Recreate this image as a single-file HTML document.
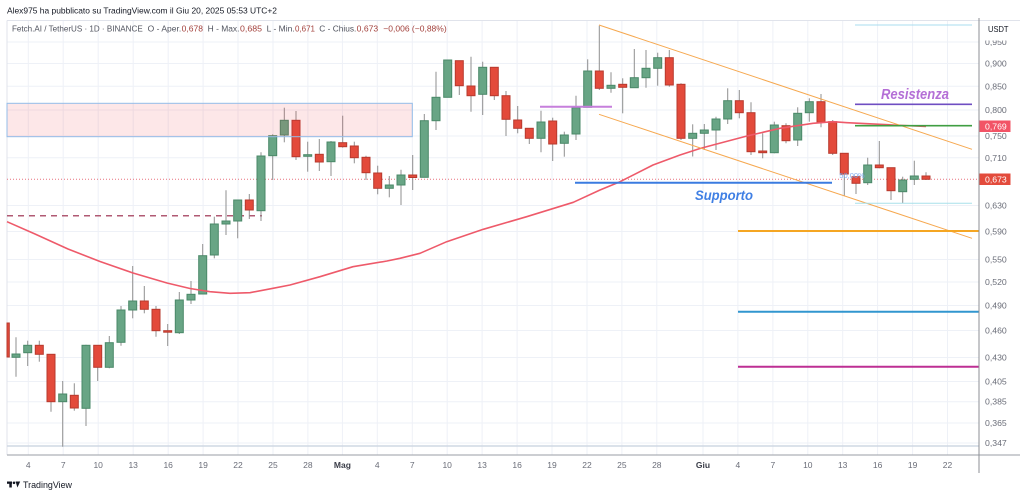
<!DOCTYPE html>
<html><head><meta charset="utf-8"><style>
html,body{margin:0;padding:0;background:#fff;}
svg{display:block;}
text{font-family:"Liberation Sans",sans-serif;}
.w{stroke:#8f8f8f;stroke-width:1;}
.g{fill:#68a585;stroke:#4a8868;stroke-width:1;}
.r{fill:#e34a3b;stroke:#b73a2e;stroke-width:1;}
.gv{stroke:#eef1f7;stroke-width:1;}
.pl{font-size:8.7px;fill:#6a6d78;}
.dl{font-size:8.5px;fill:#6a6d78;text-anchor:middle;}
</style></head><body>
<svg width="1024" height="497" viewBox="0 0 1024 497" xmlns="http://www.w3.org/2000/svg">
<rect width="1024" height="497" fill="#fff"/>
<!-- vertical grid -->
<g class="gv">
<line x1="28.3" y1="21" x2="28.3" y2="455"/><line x1="63.2" y1="21" x2="63.2" y2="455"/><line x1="98.2" y1="21" x2="98.2" y2="455"/><line x1="133.2" y1="21" x2="133.2" y2="455"/><line x1="168.2" y1="21" x2="168.2" y2="455"/><line x1="203.1" y1="21" x2="203.1" y2="455"/><line x1="238" y1="21" x2="238" y2="455"/><line x1="273" y1="21" x2="273" y2="455"/><line x1="307.9" y1="21" x2="307.9" y2="455"/><line x1="342.4" y1="21" x2="342.4" y2="455"/><line x1="377.3" y1="21" x2="377.3" y2="455"/><line x1="412.3" y1="21" x2="412.3" y2="455"/><line x1="447.2" y1="21" x2="447.2" y2="455"/><line x1="482.1" y1="21" x2="482.1" y2="455"/><line x1="517.1" y1="21" x2="517.1" y2="455"/><line x1="552" y1="21" x2="552" y2="455"/><line x1="587" y1="21" x2="587" y2="455"/><line x1="621.9" y1="21" x2="621.9" y2="455"/><line x1="656.8" y1="21" x2="656.8" y2="455"/><line x1="703" y1="21" x2="703" y2="455"/><line x1="737.9" y1="21" x2="737.9" y2="455"/><line x1="772.9" y1="21" x2="772.9" y2="455"/><line x1="807.8" y1="21" x2="807.8" y2="455"/><line x1="842.7" y1="21" x2="842.7" y2="455"/><line x1="877.6" y1="21" x2="877.6" y2="455"/><line x1="912.6" y1="21" x2="912.6" y2="455"/><line x1="947.5" y1="21" x2="947.5" y2="455"/>
</g>
<!-- horizontal grid -->
<g class="gv">
<line x1="7" y1="42" x2="979" y2="42"/><line x1="7" y1="63.5" x2="979" y2="63.5"/><line x1="7" y1="86.3" x2="979" y2="86.3"/><line x1="7" y1="110" x2="979" y2="110"/><line x1="7" y1="136" x2="979" y2="136"/><line x1="7" y1="157.8" x2="979" y2="157.8"/><line x1="7" y1="205.5" x2="979" y2="205.5"/><line x1="7" y1="231.5" x2="979" y2="231.5"/><line x1="7" y1="259.5" x2="979" y2="259.5"/><line x1="7" y1="282" x2="979" y2="282"/><line x1="7" y1="305.5" x2="979" y2="305.5"/><line x1="7" y1="330.5" x2="979" y2="330.5"/><line x1="7" y1="357.5" x2="979" y2="357.5"/><line x1="7" y1="381.5" x2="979" y2="381.5"/><line x1="7" y1="401.7" x2="979" y2="401.7"/><line x1="7" y1="423" x2="979" y2="423"/><line x1="7" y1="443" x2="979" y2="443"/>
</g>
<!-- frame -->
<line x1="7" y1="20.5" x2="1020" y2="20.5" stroke="#e0e3eb" stroke-width="1"/>
<line x1="7" y1="20.5" x2="7" y2="455" stroke="#e0e3eb" stroke-width="1"/>
<line x1="7" y1="446" x2="979" y2="446" stroke="#cfd8e3" stroke-width="1.5"/>

<!-- current price dotted line -->
<line x1="7" y1="179.3" x2="979" y2="179.3" stroke="#e8707e" stroke-width="1" stroke-dasharray="1,2"/>
<!-- red dashed line -->
<line x1="7" y1="215.7" x2="262" y2="215.7" stroke="#b05a73" stroke-width="1.5" stroke-dasharray="6,5"/>

<!-- candles -->
<rect x="7" y="323" width="2.3" height="34" class="r"/>
<line x1="16" y1="337.3" x2="16" y2="376.7" class="w"/><rect x="12" y="354" width="8" height="3.3" class="g"/>
<line x1="27.7" y1="340.7" x2="27.7" y2="366" class="w"/><rect x="23.7" y="345.3" width="8" height="7.4" class="g"/>
<line x1="39.3" y1="340.7" x2="39.3" y2="361.7" class="w"/><rect x="35.3" y="345.3" width="8" height="9" class="r"/>
<line x1="51" y1="354.3" x2="51" y2="411.7" class="w"/><rect x="47" y="354.3" width="8" height="47.4" class="r"/>
<line x1="62.7" y1="381" x2="62.7" y2="446.7" class="w"/><rect x="58.7" y="394" width="8" height="7.7" class="g"/>
<line x1="74.3" y1="383.3" x2="74.3" y2="410.7" class="w"/><rect x="70.3" y="395.3" width="8" height="12.7" class="r"/>
<line x1="86" y1="344.7" x2="86" y2="426" class="w"/><rect x="82" y="345.3" width="8" height="63" class="g"/>
<line x1="97.7" y1="345.3" x2="97.7" y2="381" class="w"/><rect x="93.7" y="345.3" width="8" height="22" class="r"/>
<line x1="109.3" y1="336" x2="109.3" y2="368.3" class="w"/><rect x="105.3" y="342.7" width="8" height="24.6" class="g"/>
<line x1="121" y1="306" x2="121" y2="345.7" class="w"/><rect x="117" y="310" width="8" height="32.3" class="g"/>
<line x1="132.7" y1="266" x2="132.7" y2="318.3" class="w"/><rect x="128.7" y="301" width="8" height="9" class="g"/>
<line x1="144.3" y1="286" x2="144.3" y2="313.3" class="w"/><rect x="140.3" y="301" width="8" height="8.3" class="r"/>
<line x1="156" y1="306" x2="156" y2="336.7" class="w"/><rect x="152" y="309.3" width="8" height="21.4" class="r"/>
<line x1="167.7" y1="324" x2="167.7" y2="346" class="w"/><rect x="163.7" y="330.7" width="8" height="1.5" class="r"/>
<line x1="179.3" y1="292" x2="179.3" y2="334" class="w"/><rect x="175.3" y="300" width="8" height="32.7" class="g"/>
<line x1="191" y1="281" x2="191" y2="304" class="w"/><rect x="187" y="294.3" width="8" height="5.7" class="g"/>
<line x1="202.7" y1="244" x2="202.7" y2="294" class="w"/><rect x="198.7" y="255.7" width="8" height="38.3" class="g"/>
<line x1="214.3" y1="216.7" x2="214.3" y2="258.3" class="w"/><rect x="210.3" y="224" width="8" height="31" class="g"/>
<line x1="226" y1="190.3" x2="226" y2="235" class="w"/><rect x="222" y="221" width="8" height="3" class="g"/>
<line x1="237.7" y1="200" x2="237.7" y2="238.3" class="w"/><rect x="233.7" y="200" width="8" height="21" class="g"/>
<line x1="249.3" y1="194" x2="249.3" y2="219" class="w"/><rect x="245.3" y="200" width="8" height="10" class="r"/>
<line x1="261" y1="152.3" x2="261" y2="221" class="w"/><rect x="257" y="156" width="8" height="54.7" class="g"/>
<line x1="272.7" y1="134.3" x2="272.7" y2="180" class="w"/><rect x="268.7" y="135.7" width="8" height="20" class="g"/>
<line x1="284.3" y1="107.7" x2="284.3" y2="142.3" class="w"/><rect x="280.3" y="120.3" width="8" height="14.7" class="g"/>
<line x1="296" y1="111" x2="296" y2="160" class="w"/><rect x="292" y="120.3" width="8" height="36.4" class="r"/>
<line x1="307.7" y1="141.7" x2="307.7" y2="171.7" class="w"/><rect x="303.7" y="154.7" width="8" height="1.6" class="g"/>
<line x1="319.3" y1="139" x2="319.3" y2="171" class="w"/><rect x="315.3" y="154.3" width="8" height="7.7" class="r"/>
<line x1="331" y1="141" x2="331" y2="176" class="w"/><rect x="327" y="142" width="8" height="19.7" class="g"/>
<line x1="342.7" y1="115.7" x2="342.7" y2="147.7" class="w"/><rect x="338.7" y="142.7" width="8" height="4" class="r"/>
<line x1="354.3" y1="141.7" x2="354.3" y2="163.3" class="w"/><rect x="350.3" y="146" width="8" height="11.7" class="r"/>
<line x1="366" y1="155.7" x2="366" y2="180" class="w"/><rect x="362" y="157.3" width="8" height="15.4" class="r"/>
<line x1="377.7" y1="165.7" x2="377.7" y2="194.3" class="w"/><rect x="373.7" y="173" width="8" height="15.3" class="r"/>
<line x1="389.3" y1="176" x2="389.3" y2="197.3" class="w"/><rect x="385.3" y="185" width="8" height="3.3" class="g"/>
<line x1="401" y1="169.7" x2="401" y2="205" class="w"/><rect x="397" y="175" width="8" height="10" class="g"/>
<line x1="412.7" y1="155" x2="412.7" y2="190" class="w"/><rect x="408.7" y="175" width="8" height="2.5" class="r"/>
<line x1="424.3" y1="114" x2="424.3" y2="177.3" class="w"/><rect x="420.3" y="120.7" width="8" height="56.6" class="g"/>
<line x1="436" y1="71.7" x2="436" y2="130" class="w"/><rect x="432" y="97.3" width="8" height="23.4" class="g"/>
<line x1="447.7" y1="60" x2="447.7" y2="97.3" class="w"/><rect x="443.7" y="60" width="8" height="37.3" class="g"/>
<line x1="459.3" y1="60.7" x2="459.3" y2="95" class="w"/><rect x="455.3" y="60.7" width="8" height="25" class="r"/>
<line x1="471" y1="56.7" x2="471" y2="111.7" class="w"/><rect x="467" y="86" width="8" height="9.7" class="r"/>
<line x1="482.7" y1="61.7" x2="482.7" y2="115" class="w"/><rect x="478.7" y="67.3" width="8" height="27" class="g"/>
<line x1="494.3" y1="67.3" x2="494.3" y2="100" class="w"/><rect x="490.3" y="67.3" width="8" height="28.4" class="r"/>
<line x1="506" y1="91" x2="506" y2="136" class="w"/><rect x="502" y="95.7" width="8" height="23.6" class="r"/>
<line x1="517.7" y1="106" x2="517.7" y2="133.3" class="w"/><rect x="513.7" y="120" width="8" height="8.3" class="r"/>
<line x1="529.3" y1="128.3" x2="529.3" y2="144" class="w"/><rect x="525.3" y="128.3" width="8" height="10" class="r"/>
<line x1="541" y1="110.7" x2="541" y2="152.3" class="w"/><rect x="537" y="122" width="8" height="16.3" class="g"/>
<line x1="552.7" y1="117.7" x2="552.7" y2="161" class="w"/><rect x="548.7" y="121" width="8" height="23" class="r"/>
<line x1="564.3" y1="131.7" x2="564.3" y2="156.7" class="w"/><rect x="560.3" y="135" width="8" height="8.3" class="g"/>
<line x1="576" y1="95.7" x2="576" y2="140" class="w"/><rect x="572" y="107.7" width="8" height="26.3" class="g"/>
<line x1="587.7" y1="59.3" x2="587.7" y2="107.3" class="w"/><rect x="583.7" y="71" width="8" height="36.3" class="g"/>
<line x1="599.3" y1="25.7" x2="599.3" y2="90" class="w"/><rect x="595.3" y="71" width="8" height="17.3" class="r"/>
<line x1="611" y1="72.3" x2="611" y2="92.7" class="w"/><rect x="607" y="85.3" width="8" height="3" class="g"/>
<line x1="622.7" y1="78.3" x2="622.7" y2="113.3" class="w"/><rect x="618.7" y="84.3" width="8" height="3" class="r"/>
<line x1="634.3" y1="49" x2="634.3" y2="87.7" class="w"/><rect x="630.3" y="77.7" width="8" height="10" class="g"/>
<line x1="646" y1="50" x2="646" y2="87.7" class="w"/><rect x="642" y="68.3" width="8" height="9.4" class="g"/>
<line x1="657.7" y1="52.7" x2="657.7" y2="85.7" class="w"/><rect x="653.7" y="57.7" width="8" height="10.6" class="g"/>
<line x1="669.3" y1="50" x2="669.3" y2="86.7" class="w"/><rect x="665.3" y="57.7" width="8" height="27.3" class="r"/>
<line x1="681" y1="83.3" x2="681" y2="140" class="w"/><rect x="677" y="84.3" width="8" height="54" class="r"/>
<line x1="692.7" y1="124.3" x2="692.7" y2="156.5" class="w"/><rect x="688.7" y="133.3" width="8" height="5" class="g"/>
<line x1="704.3" y1="124" x2="704.3" y2="150" class="w"/><rect x="700.3" y="130" width="8" height="3.3" class="g"/>
<line x1="716" y1="116.7" x2="716" y2="150" class="w"/><rect x="712" y="119" width="8" height="11" class="g"/>
<line x1="727.7" y1="88.3" x2="727.7" y2="124" class="w"/><rect x="723.7" y="100.7" width="8" height="18.3" class="g"/>
<line x1="739.3" y1="90" x2="739.3" y2="118.3" class="w"/><rect x="735.3" y="100.7" width="8" height="12" class="r"/>
<line x1="751" y1="102.3" x2="751" y2="155" class="w"/><rect x="747" y="112.7" width="8" height="39" class="r"/>
<line x1="762.7" y1="133.3" x2="762.7" y2="158.3" class="w"/><rect x="758.7" y="151" width="8" height="1.7" class="r"/>
<line x1="774.3" y1="121.7" x2="774.3" y2="153.3" class="w"/><rect x="770.3" y="125" width="8" height="27.7" class="g"/>
<line x1="786" y1="123.3" x2="786" y2="143.3" class="w"/><rect x="782" y="125.7" width="8" height="15" class="r"/>
<line x1="797.7" y1="107.3" x2="797.7" y2="146" class="w"/><rect x="793.7" y="113.3" width="8" height="26.7" class="g"/>
<line x1="809.3" y1="98.3" x2="809.3" y2="121.7" class="w"/><rect x="805.3" y="101.7" width="8" height="11" class="g"/>
<line x1="821" y1="94" x2="821" y2="127.3" class="w"/><rect x="817" y="101.7" width="8" height="20.6" class="r"/>
<line x1="832.7" y1="120" x2="832.7" y2="155" class="w"/><rect x="828.7" y="121.7" width="8" height="31.6" class="r"/>
<line x1="844.3" y1="153.3" x2="844.3" y2="196" class="w"/><rect x="840.3" y="153.3" width="8" height="20.7" class="r"/>
<line x1="856" y1="176.7" x2="856" y2="194" class="w"/><rect x="852" y="176.7" width="8" height="6.6" class="r"/>
<line x1="867.7" y1="157.7" x2="867.7" y2="185" class="w"/><rect x="863.7" y="165" width="8" height="17.7" class="g"/>
<line x1="879.3" y1="141" x2="879.3" y2="168.3" class="w"/><rect x="875.3" y="165" width="8" height="2.7" class="r"/>
<line x1="891" y1="167.7" x2="891" y2="200" class="w"/><rect x="887" y="167.7" width="8" height="23" class="r"/>
<line x1="902.7" y1="176.7" x2="902.7" y2="203.3" class="w"/><rect x="898.7" y="180" width="8" height="11.7" class="g"/>
<line x1="914.3" y1="160.7" x2="914.3" y2="185" class="w"/><rect x="910.3" y="176" width="8" height="3.3" class="g"/>
<line x1="926" y1="172.3" x2="926" y2="180" class="w"/><rect x="922" y="176" width="8" height="3.3" class="r"/>

<!-- moving average -->
<polyline fill="none" stroke="#ee5a6a" stroke-width="1.6" stroke-linejoin="round" points="7,221.7 35,234 68,249 100,261.5 133,273 167,283 190,288.5 210,291.7 230,293.3 250,292.7 273,288.3 290,285 320,276.7 353,266.7 387,261 400,258.3 420,253.3 446.7,241.7 483.3,229.3 526.7,216.7 573.3,202.3 600,190 620,181.7 653,165 680,155 700,148.5 713,145 747,136 780,128.3 813,123.3 833,121.7 847,122.7 893,125 926,126.5"/>

<!-- pink zone -->
<rect x="7" y="103.3" width="405.3" height="33.4" fill="rgba(242,54,69,0.12)" stroke="#93bde9" stroke-width="1"/>

<!-- drawings -->
<line x1="540" y1="106.7" x2="612" y2="106.7" stroke="#c67fdc" stroke-width="2"/>
<line x1="599" y1="25" x2="972" y2="149.3" stroke="#f6a84f" stroke-width="1"/>
<line x1="599" y1="114.3" x2="972" y2="238.3" stroke="#f6a84f" stroke-width="1"/>
<line x1="575" y1="182.7" x2="832" y2="182.7" stroke="#3a7be0" stroke-width="2"/>
<text x="695" y="200" font-size="14" font-weight="bold" font-style="italic" fill="#3f7fe4" textLength="58" lengthAdjust="spacingAndGlyphs">Supporto</text>
<text x="852" y="178" font-size="7.5" fill="#7aa6ee" text-anchor="middle" opacity="0.9">50,00%</text>
<line x1="855" y1="25" x2="972" y2="25" stroke="#a9dcef" stroke-width="1"/>
<text x="881" y="99" font-size="14.5" font-weight="bold" font-style="italic" fill="#b46fd6" textLength="68" lengthAdjust="spacingAndGlyphs">Resistenza</text>
<line x1="855" y1="104.3" x2="972" y2="104.3" stroke="#6f4ec2" stroke-width="1.6"/>
<line x1="855" y1="125.7" x2="972" y2="125.7" stroke="#3f9e42" stroke-width="1.6"/>
<line x1="855" y1="203.3" x2="972" y2="203.3" stroke="#a8e0ea" stroke-width="1"/>
<line x1="738" y1="231" x2="979" y2="231" stroke="#f5a623" stroke-width="2"/>
<line x1="738" y1="311.7" x2="979" y2="311.7" stroke="#3196cf" stroke-width="2"/>
<line x1="738" y1="366.7" x2="979" y2="366.7" stroke="#bd2f93" stroke-width="2"/>

<!-- axes -->
<line x1="7" y1="455" x2="1020" y2="455" stroke="#9a9ea6" stroke-width="1"/>
<line x1="979" y1="18" x2="979" y2="473" stroke="#8c8f96" stroke-width="1"/>

<!-- price labels -->
<g class="pl">
<text x="985" y="45">0,950</text>
<text x="985" y="66.5">0,900</text>
<text x="985" y="89.3">0,850</text>
<text x="985" y="113">0,800</text>
<text x="985" y="139">0,750</text>
<text x="985" y="160.8">0,710</text>
<text x="985" y="208.5">0,630</text>
<text x="985" y="234.5">0,590</text>
<text x="985" y="262.5">0,550</text>
<text x="985" y="285">0,520</text>
<text x="985" y="308.5">0,490</text>
<text x="985" y="333.5">0,460</text>
<text x="985" y="360.5">0,430</text>
<text x="985" y="384.5">0,405</text>
<text x="985" y="404.7">0,385</text>
<text x="985" y="426">0,365</text>
<text x="985" y="446">0,347</text>
</g>
<rect x="980" y="21" width="40" height="19.5" fill="#fff"/>
<text x="988" y="32" font-size="8.5" fill="#131722" textLength="20.5" lengthAdjust="spacingAndGlyphs">USDT</text>
<rect x="979.5" y="120.5" width="31" height="11.5" fill="#f25466"/>
<text x="985" y="129.5" font-size="8.7" fill="#fff">0,769</text>
<rect x="979.5" y="173.5" width="31" height="11.5" fill="#e34b3c"/>
<text x="985" y="182.5" font-size="8.7" fill="#fff">0,673</text>

<!-- date labels -->
<g class="dl">
<text x="28.3" y="468">4</text><text x="63.2" y="468">7</text><text x="98.2" y="468">10</text><text x="133.2" y="468">13</text><text x="168.2" y="468">16</text><text x="203.1" y="468">19</text><text x="238" y="468">22</text><text x="273" y="468">25</text><text x="307.9" y="468">28</text>
<text x="342.4" y="468" font-weight="bold" fill="#3a3d48">Mag</text>
<text x="377.3" y="468">4</text><text x="412.3" y="468">7</text><text x="447.2" y="468">10</text><text x="482.1" y="468">13</text><text x="517.1" y="468">16</text><text x="552" y="468">19</text><text x="587" y="468">22</text><text x="621.9" y="468">25</text><text x="656.8" y="468">28</text>
<text x="703" y="468" font-weight="bold" fill="#3a3d48">Giu</text>
<text x="737.9" y="468">4</text><text x="772.9" y="468">7</text><text x="807.8" y="468">10</text><text x="842.7" y="468">13</text><text x="877.6" y="468">16</text><text x="912.6" y="468">19</text><text x="947.5" y="468">22</text>
</g>

<!-- header -->
<text x="7" y="13.6" font-size="8.3" fill="#131722" textLength="270" lengthAdjust="spacingAndGlyphs">Alex975 ha pubblicato su TradingView.com il Giu 20, 2025 05:53 UTC+2</text>
<g font-size="8.3">
<text x="12" y="31.3" fill="#50535e" textLength="130.7" lengthAdjust="spacingAndGlyphs">Fetch.AI / TetherUS · 1D · BINANCE</text>
<text x="147.7" y="31.3" fill="#50535e" textLength="33.5" lengthAdjust="spacingAndGlyphs">O - Aper.</text>
<text x="181.7" y="31.3" fill="#a3403b" textLength="21.3" lengthAdjust="spacingAndGlyphs">0,678</text>
<text x="207.7" y="31.3" fill="#50535e" textLength="31.8" lengthAdjust="spacingAndGlyphs">H - Max.</text>
<text x="240" y="31.3" fill="#a3403b" textLength="22" lengthAdjust="spacingAndGlyphs">0,685</text>
<text x="266.7" y="31.3" fill="#50535e" textLength="28" lengthAdjust="spacingAndGlyphs">L - Min.</text>
<text x="295" y="31.3" fill="#a3403b" textLength="20" lengthAdjust="spacingAndGlyphs">0,671</text>
<text x="319.3" y="31.3" fill="#50535e" textLength="37" lengthAdjust="spacingAndGlyphs">C - Chius.</text>
<text x="356.7" y="31.3" fill="#a3403b" textLength="21.5" lengthAdjust="spacingAndGlyphs">0,673</text>
<text x="383.3" y="31.3" fill="#a3403b" textLength="63.4" lengthAdjust="spacingAndGlyphs">−0,006 (−0,88%)</text>
</g>

<!-- footer -->
<g fill="#131722">
<rect x="7" y="481.5" width="5" height="2.3"/>
<rect x="9.3" y="481.5" width="2.5" height="6"/>
<circle cx="14" cy="482.8" r="1.3"/>
<polygon points="15.6,481.5 20.2,481.5 17.4,487.5"/>
</g>
<text x="23" y="488" font-size="9.3" fill="#131722" textLength="49" lengthAdjust="spacingAndGlyphs">TradingView</text>
</svg>
</body></html>
